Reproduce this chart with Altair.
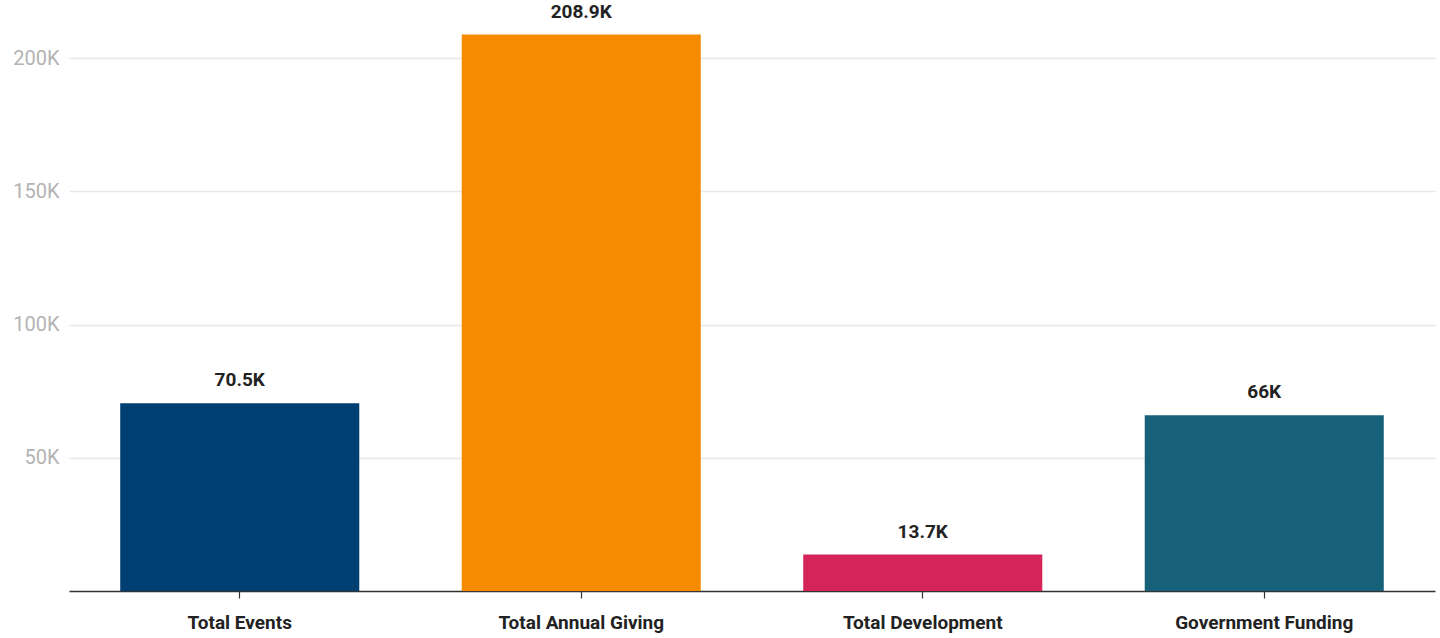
import altair as alt
import pandas as pd

categories = ["Total Events", "Total Annual Giving", "Total Development", "Government Funding"]
values = [70500, 208900, 13700, 66000]
labels = ["70.5K", "208.9K", "13.7K", "66K"]
colors = ["#003f72", "#f78b00", "#d4245a", "#17607a"]

df = pd.DataFrame({"category": categories, "value": values, "label": labels})

x = alt.X("category:N", sort=categories, title=None,
          scale=alt.Scale(paddingInner=0.3, paddingOuter=0.15),
          axis=alt.Axis(labelAngle=0, labelFont="Roboto", labelFontWeight="bold",
                        labelFontSize=19, labelColor="#222222", labelPadding=15,
                        domainColor="#333333", domainWidth=1.5, tickColor="#333333",
                        tickSize=7, tickWidth=1.2, grid=False))
y = alt.Y("value:Q", title=None, scale=alt.Scale(domain=[0, 220000], nice=False),
          axis=alt.Axis(values=[50000, 100000, 150000, 200000],
                        labelExpr="datum.value / 1000 + 'K'",
                        labelFont="Roboto", labelFontSize=20, labelColor="#b3b3b3",
                        labelPadding=10, domain=False, ticks=False,
                        gridColor="#e8e8e8", gridWidth=1.5))

bars = alt.Chart(df).mark_bar().encode(
    x=x, y=y,
    color=alt.Color("category:N", scale=alt.Scale(domain=categories, range=colors), legend=None),
)
text = alt.Chart(df).mark_text(font="Roboto", fontWeight="bold", fontSize=19,
                               color="#222222", baseline="bottom", dy=-13).encode(
    x=alt.X("category:N", sort=categories), y="value:Q", text="label:N")

chart = (bars + text).properties(
    width=1366, height=586,
    background="white",
    padding={"left": 69, "top": 5, "right": 5, "bottom": 47},
    autosize=alt.AutoSizeParams(type="none"),
).configure_view(stroke=None, strokeWidth=0)

chart.save("out.html", embed_options={"renderer": "svg", "actions": False})
